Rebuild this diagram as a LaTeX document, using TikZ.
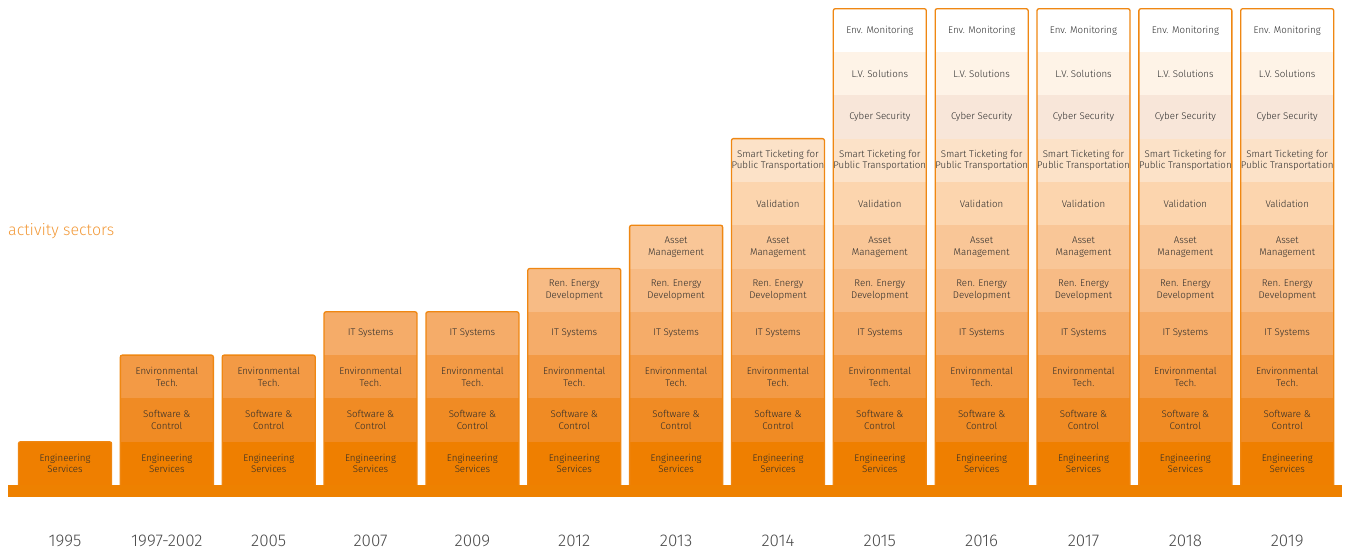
\documentclass[tikz,border=0pt]{standalone}
\usepackage{fontspec}
\setmainfont{Fira Sans Light}
\usepackage{xcolor}

\definecolor{sec1}{HTML}{EF7F00}
\definecolor{sec2}{HTML}{F08B24}
\definecolor{sec3}{HTML}{F39A45}
\definecolor{sec4}{HTML}{F5AC69}
\definecolor{sec5}{HTML}{F7BB85}
\definecolor{sec6}{HTML}{F9C697}
\definecolor{sec7}{HTML}{FCD5AE}
\definecolor{sec8}{HTML}{FCE2C8}
\definecolor{sec9}{HTML}{F8E6D9}
\definecolor{sec10}{HTML}{FEF3E7}
\definecolor{sec11}{HTML}{FFFFFF}
\definecolor{barorange}{HTML}{EE8100}
\definecolor{edgeorange}{HTML}{EF8712}
\definecolor{titleorange}{HTML}{F29A3A}
\definecolor{inktext}{HTML}{2A2A2A}

\newcommand{\sectorname}[1]{\ifcase#1\or Engineering\\Services\or Software \&\\Control\or Environmental\\Tech.\or IT Systems\or Ren. Energy\\Development\or Asset\\Management\or Validation\or Smart Ticketing for\\Public Transportation\or Cyber Security\or L.V. Solutions\or Env. Monitoring\fi}

\begin{document}
\begin{tikzpicture}[x=1pt,y=-1pt]
	\tikzset{sector/.style={minimum width=93pt, minimum height=43.3pt, inner sep=0pt, align=center, text=inktext, font=\fontsize{9.7}{11.8}\selectfont},
		colbox/.style={draw=edgeorange, line width=1.3pt, rounded corners=2pt},
		yearlabel/.style={text=inktext!85, font=\fontsize{17}{20}\selectfont}}
	\useasboundingbox (0,0) rectangle (1349,555);
	\node[anchor=west, text=titleorange, font=\fontsize{16}{19}\selectfont, inner sep=0pt] (title) at (8,231) {activity sectors};
	% one column per year
	\foreach \yr/\n [count=\c] in {1995/1, 1997-2002/3, 2005/3, 2007/4, 2009/4, 2012/5, 2013/6, 2014/8, 2015/11, 2016/11, 2017/11, 2018/11, 2019/11} {
		\pgfmathsetmacro\cx{65+101.85*(\c-1)}
		\pgfmathsetmacro\top{485-43.3*\n}
		\foreach \r in {1,...,\n}
			\node[sector, fill=sec\r] (cell-\c-\r) at (\cx, {485-43.3*(\r-0.5)}) {\sectorname{\r}};
		\draw[colbox] (\cx-46.5, 490) rectangle (\cx+46.5, \top);
		\node[yearlabel] (year-\c) at (\cx, 541) {\yr};
	}
	\fill[barorange] (8,485) rectangle (1342,497);
\end{tikzpicture}
\end{document}
